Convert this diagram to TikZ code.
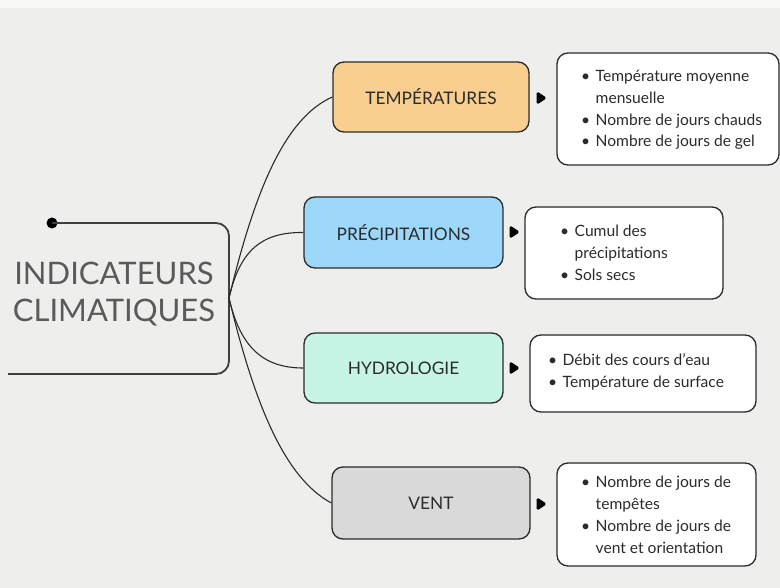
\documentclass[tikz,border=0pt]{standalone}
\usepackage{fontspec}
\setmainfont{Lato}
\definecolor{bg}{HTML}{EEEEEC}
\definecolor{ink}{HTML}{2B2B2B}
\definecolor{titlegray}{HTML}{5A5A5A}
\definecolor{ctemp}{HTML}{F9CF8F}
\definecolor{cprec}{HTML}{9DD8FA}
\definecolor{chydro}{HTML}{C6F5E6}
\definecolor{cvent}{HTML}{D9D9D9}
\tikzset{
  cat/.style={draw=ink, line width=1.3pt, rounded corners=11pt, minimum width=196pt, minimum height=70pt, font=\fontsize{17.3}{20}\selectfont, text=ink, inner sep=0pt},
  detbox/.style={draw=ink, line width=1.3pt, rounded corners=11pt, fill=white, inner sep=0pt},
  dettext/.style={anchor=west, inner sep=0pt, font=\fontsize{15.6}{21.8}\selectfont, text=ink, align=left},
  tipshape/.style={fill=black, draw=black, line width=1pt, line join=round, rounded corners=1.5pt},
  link/.style={draw=ink, line width=1.1pt},
}
\newcommand{\bul}{\makebox[14.5pt][l]{•}}
\newcommand{\ind}{\hspace*{14.5pt}}
\newcommand{\tipat}[1]{\fill[tipshape, shift={(#1)}] (-4,-6) -- (5,0) -- (-4,6) -- cycle;}
\begin{document}
\begin{tikzpicture}[x=1pt,y=-1pt]
\useasboundingbox (0,0) rectangle (780,588);
\fill[bg] (0,0) rectangle (780,588);
\fill[white!60!bg] (0,0) rectangle (780,8);
% central
\node[circle, fill=black, minimum size=11pt, inner sep=0pt] (dot) at (52,223) {};
\coordinate (hub) at (229,298);
\coordinate (bend) at (8,374);
\draw[link, line width=1.8pt, draw=ink!90, rounded corners=13pt] (dot.center) -- (229,223) -- (229,374) -- (bend);
\node[font=\fontsize{31}{37}\selectfont, text=titlegray, align=center] (title) at (114,294) {INDICATEURS\\CLIMATIQUES};
% categories
\node[cat, fill=ctemp] (temp) at (431,97) {TEMPÉRATURES};
\node[cat, fill=cprec, minimum width=199pt, minimum height=71pt] (prec) at (403.5,232.5) {PRÉCIPITATIONS};
\node[cat, fill=chydro, minimum width=199pt] (hydro) at (403.5,368) {HYDROLOGIE};
\node[cat, fill=cvent, minimum width=198pt, minimum height=72pt] (vent) at (431,503) {VENT};
% curves
\draw[link] (hub) .. controls (255,190) and (285,118) .. (temp.west);
\draw[link] (hub) .. controls (240,250) and (262,232) .. (prec.west);
\draw[link] (hub) .. controls (240,346) and (262,368) .. (hydro.west);
\draw[link] (hub) .. controls (255,406) and (285,478) .. (vent.west);
% detail boxes
\node[detbox, minimum width=222pt, minimum height=112pt] (d1) at (668,109) {};
\node[detbox, minimum width=198pt, minimum height=92pt] (d2) at (624,253) {};
\node[detbox, minimum width=226pt, minimum height=77pt] (d3) at (643,373.5) {};
\node[detbox, minimum width=199pt, minimum height=103pt] (d4) at (656.5,514.5) {};
\node[dettext] (t1) at (581,110) {\bul Température moyenne\\\ind mensuelle\\\bul Nombre de jours chauds\\\bul Nombre de jours de gel};
\node[dettext] (t2) at (560,253) {\bul Cumul des\\\ind précipitations\\\bul Sols secs};
\node[dettext] (t3) at (548,372) {\bul Débit des cours d'eau\\\bul Température de surface};
\node[dettext] (t4) at (581,515) {\bul Nombre de jours de\\\ind tempêtes\\\bul Nombre de jours de\\\ind vent et orientation};
% tips
\coordinate (a1) at (541,98);
\coordinate (a2) at (514,232);
\coordinate (a3) at (514,368);
\coordinate (a4) at (541,504);
\tipat{a1}\tipat{a2}\tipat{a3}\tipat{a4}
\end{tikzpicture}
\end{document}
